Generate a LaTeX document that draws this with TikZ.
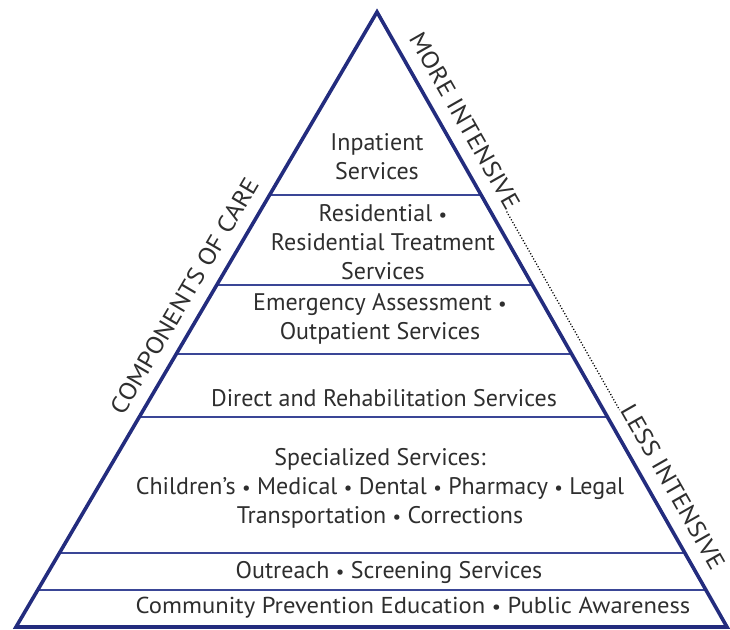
\documentclass[tikz,border=0pt]{standalone}
\usepackage{fontspec}
\setmainfont{PT Sans}
\newfontfamily\widefont[FakeStretch=1.07]{PT Sans}
\newfontfamily\sidefont[FakeStretch=1.1]{PT Sans}
\usetikzlibrary{calc}

\definecolor{pyrblue}{HTML}{232C7E}
\definecolor{tierblue}{HTML}{3A4696}
\definecolor{txtgray}{HTML}{2E2E2E}

% smaller bullet between items
\newcommand{\bul}{{\fontsize{19}{19}\selectfont•}}

\begin{document}
\begin{tikzpicture}[
    x=1pt,
    y=1pt,
    line join=miter,
    outline/.style={draw=pyrblue,line width=3.6pt},
    tier/.style={draw=tierblue,line width=1.8pt},
    tiertext/.style={text=txtgray,font=\fontsize{24}{29}\selectfont,align=center,inner sep=0pt},
    sidetext/.style={text=txtgray,font=\sidefont\fontsize{24}{26}\selectfont,sloped,anchor=south,inner xsep=0pt,inner ysep=13.5pt}
]

\useasboundingbox (0,0) rectangle (730,629);

% =========================================================
% Parameters
% =========================================================

\def\bot{2}      % bottom edge of the pyramid
\def\top{617}    % apex height
\pgfmathsetmacro{\span}{\top-\bot}

% =========================================================
% Corners of the pyramid
% =========================================================

\coordinate (T)  at (377,\top);
\coordinate (BL) at (16,\bot);
\coordinate (BR) at (727,\bot);

% =========================================================
% Tier separators
% =========================================================

\foreach \h in {434,344,275,212,76,39}{
    \pgfmathsetmacro{\t}{(\h-\bot)/\span}
    \draw[tier] ($(BL)!\t!(T)$) -- ($(BR)!\t!(T)$);
}

% =========================================================
% Outline
% =========================================================

\draw[outline] (BL) -- (T) -- (BR) -- cycle;

% =========================================================
% Tier labels
% =========================================================

\node[tiertext] (inpatient)   at (377,472) {Inpatient\\Services};
\node[tiertext] (residential) at (383,387) {Residential \bul\\Residential Treatment\\Services};
\node[tiertext] (emergency)   at (380,310) {Emergency Assessment \bul\\Outpatient Services};
\node[tiertext] (direct)      at (384,231) {Direct and Rehabilitation Services};
\node[tiertext] (specialized) at (380,141) {Specialized Services:\\Children’s \bul{} Medical \bul{} Dental \bul{} Pharmacy \bul{} Legal\\Transportation \bul{} Corrections};
\node[tiertext] (outreach)    at (389,57)  {Outreach \bul{} Screening Services};
\node[tiertext,font=\widefont\fontsize{23}{26}\selectfont] (community) at (413,21) {Community Prevention Education \bul{} Public Awareness};

% =========================================================
% Side labels
% =========================================================

\path (BL) -- (T) node[sidetext,pos=0.52] (care) {COMPONENTS OF CARE};
\path (T) -- (BR) node[sidetext,pos=0.195] (more) {MORE INTENSIVE};
\path (T) -- (BR) node[sidetext,pos=0.79] (less) {LESS INTENSIVE};

\draw[black,line width=1.3pt,dash pattern=on 1.1pt off 1.9pt] (more.base east) -- (less.base west);

\end{tikzpicture}
\end{document}
